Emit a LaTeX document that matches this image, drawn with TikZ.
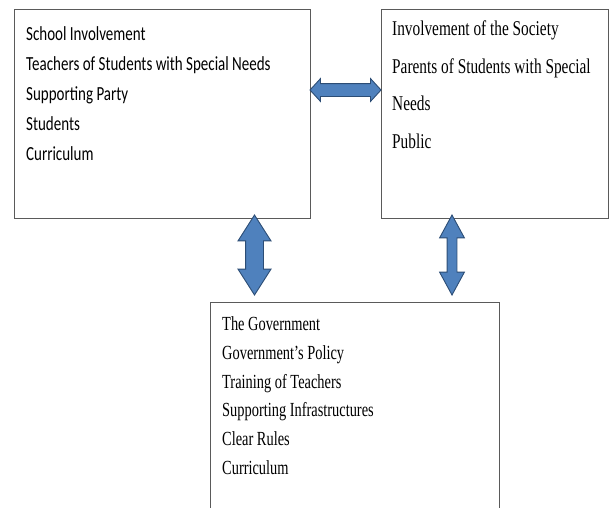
\documentclass[tikz,border=0pt]{standalone}
\usepackage{fontspec}
\usetikzlibrary{shapes.arrows}

\newfontfamily\schoolfont[FakeStretch=0.75]{Carlito}
\newfontfamily\societyfont[FakeStretch=0.73]{Liberation Serif}
\newfontfamily\govfont[FakeStretch=0.72]{Liberation Serif}

\definecolor{linkfill}{HTML}{4F81BD}
\definecolor{linkline}{HTML}{2C4D75}
\definecolor{boxline}{HTML}{5A5A5A}

\tikzset{
	box/.style={draw=boxline, line width=1.4pt, inner sep=0pt, anchor=north west},
	item/.style={anchor=base west, inner sep=0pt},
	link/.style={double arrow, draw=linkline, fill=linkfill, line width=0.9pt,
		inner xsep=0pt, double arrow head indent=0pt}
}

\begin{document}
\begin{tikzpicture}[x=1pt, y=-1pt]
	        \clip (0, 0) rectangle (610, 507);

	        \node [box, minimum width=296pt, minimum height=209pt] at (14, 9) (school) {};
	        \node [box, minimum width=227pt, minimum height=209pt] at (381, 9) (society) {};
	        \node [box, minimum width=289pt, minimum height=230pt] at (210, 302) (gov) {};

	        \foreach \txt [count=\i] in {School Involvement, Teachers of Students with Special Needs,
	                Supporting Party, Students, Curriculum}
	                \node [item, font=\schoolfont\fontsize{20}{24}\selectfont] at (26, {40+30.2*(\i-1)}) (s\i) {\txt};

	        \foreach \txt [count=\i] in {Involvement of the Society, Parents of Students with Special,
	                Needs, Public}
	                \node [item, font=\societyfont\fontsize{21}{25}\selectfont] at (392, {35.7+37.6*(\i-1)}) (p\i) {\txt};

	        \foreach \txt [count=\i] in {The Government, Government’s Policy, Training of Teachers,
	                Supporting Infrastructures, Clear Rules, Curriculum}
	                \node [item, font=\govfont\fontsize{20}{24}\selectfont] at (222, {330.7+28.7*(\i-1)}) (g\i) {\txt};

	        \node [link, inner ysep=6pt, minimum height=71pt, double arrow head extend=5pt,
	                double arrow tip angle=95] at (345.5, 90) (linkh) {};
	        \node [link, rotate=90, inner ysep=8.5pt, minimum height=80pt, double arrow head extend=7.5pt,
	                double arrow tip angle=65] at (254.5, 255) (linkl) {};
	        \node [link, rotate=90, inner ysep=4.5pt, minimum height=80pt, double arrow head extend=7.5pt,
	                double arrow tip angle=57] at (452, 255) (linkr) {};
\end{tikzpicture}
\end{document}
